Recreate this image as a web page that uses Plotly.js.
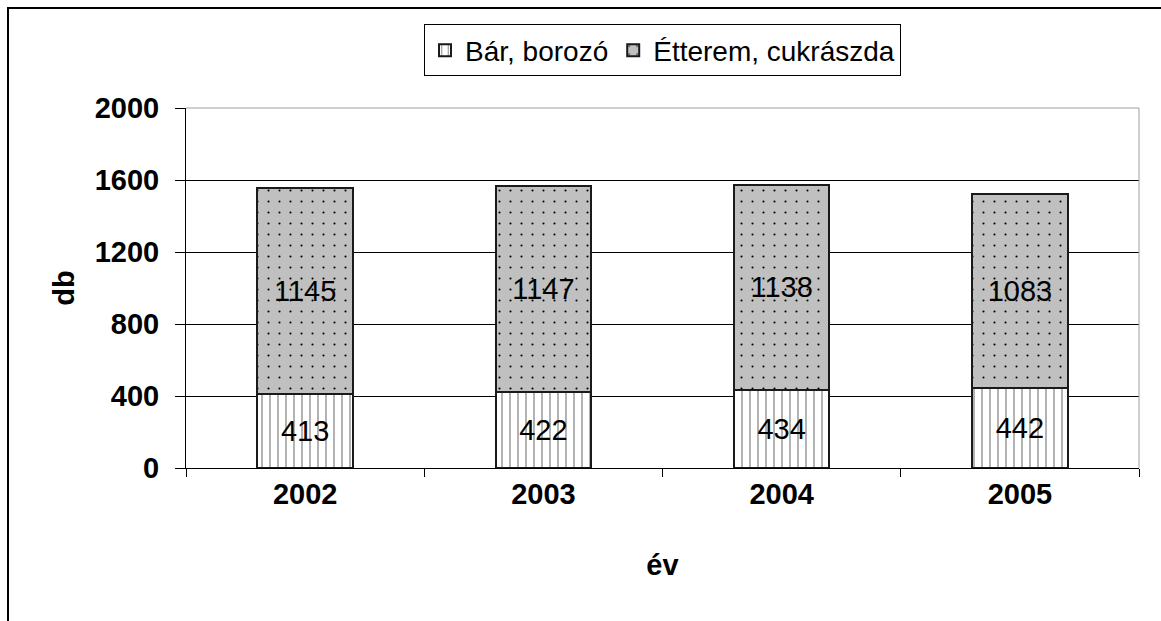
<!DOCTYPE html>
<html>
<head>
<meta charset="utf-8">
<script src="https://cdn.plot.ly/plotly-3.0.1.min.js"></script>
<style>
  body { margin: 0; overflow: hidden; background: #fff; }
  #chart { position: absolute; left: 0; top: 0; width: 1161px; height: 621px; }
  #keret { position: absolute; left: 7px; top: 7px; width: 2000px; height: 2000px;
           border-left: 2px solid #000; border-top: 2px solid #000; pointer-events: none; }
</style>
</head>
<body>
<div id="chart"></div>
<div id="keret"></div>
<script>
// evek es darabszamok
var evek = ['2002', '2003', '2004', '2005'];
var barBorozo = [413, 422, 434, 442];
var etteremCukraszda = [1145, 1147, 1138, 1083];
var yTicks = [0, 400, 800, 1200, 1600, 2000];

var betu = 'Liberation Sans, Arial, sans-serif';

var trace1 = {
  type: 'bar',
  name: 'Bár, borozó',
  x: evek,
  y: barBorozo,
  text: barBorozo.map(String),
  textposition: 'inside',
  insidetextanchor: 'middle',
  textangle: 0,
  textfont: {family: betu, size: 29, color: '#000'},
  marker: {
    color: '#ffffff',
    line: {color: '#1a1a1a', width: 2},
    pattern: {shape: '|', fgcolor: '#000', bgcolor: '#fff', size: 8, solidity: 0.15, fgopacity: 0.5}
  },
  hoverinfo: 'skip'
};

var trace2 = {
  type: 'bar',
  name: 'Étterem, cukrászda',
  x: evek,
  y: etteremCukraszda,
  text: etteremCukraszda.map(String),
  textposition: 'inside',
  insidetextanchor: 'middle',
  textangle: 0,
  textfont: {family: betu, size: 29, color: '#000'},
  marker: {
    color: '#c0c0c0',
    line: {color: '#1a1a1a', width: 2},
    pattern: {shape: '.', fgcolor: '#000', bgcolor: '#c0c0c0', size: 11, solidity: 0.03}
  },
  hoverinfo: 'skip'
};

var layout = {
  width: 1161,
  height: 621,
  margin: {l: 186, r: 22, t: 108, b: 153},
  paper_bgcolor: '#fff',
  plot_bgcolor: '#fff',
  barmode: 'stack',
  bargap: 0.6,
  font: {family: betu, color: '#000'},
  showlegend: true,
  legend: {
    orientation: 'h',
    x: 0.5, xanchor: 'center',
    y: 1.232, yanchor: 'top',
    bordercolor: '#000', borderwidth: 1,
    font: {family: betu, size: 28, color: '#000'},
    itemwidth: 30,
    traceorder: 'normal'
  },
  xaxis: {
    type: 'category',
    tickson: 'boundaries',
    ticks: 'outside', ticklen: 8, tickcolor: '#000', tickwidth: 1,
    showline: true, linecolor: '#000', linewidth: 1,
    showgrid: false,
    tickfont: {family: betu, size: 29, weight: 'bold', color: '#000'},
    title: {text: 'év', font: {family: betu, size: 29, weight: 'bold', color: '#000'}, standoff: 45},
    automargin: false
  },
  yaxis: {
    range: [0, 2000],
    tickvals: yTicks,
    ticktext: yTicks.map(String),
    ticks: 'outside', ticklen: 10, tickcolor: '#000', tickwidth: 1,
    ticklabelstandoff: 10,
    showline: true, linecolor: '#000', linewidth: 1,
    showgrid: true, gridcolor: '#000', gridwidth: 1,
    zeroline: false,
    tickfont: {family: betu, size: 29, weight: 'bold', color: '#000'},
    title: {text: 'db', font: {family: betu, size: 29, weight: 'bold', color: '#000'}, standoff: 11},
    automargin: false
  },
  shapes: [
    {type: 'line', xref: 'paper', yref: 'paper', x0: 0, x1: 1, y0: 1, y1: 1,
     line: {color: '#a0a0a0', width: 1}, layer: 'above'},
    {type: 'line', xref: 'paper', yref: 'paper', x0: 1, x1: 1, y0: 0, y1: 1,
     line: {color: '#a0a0a0', width: 1}, layer: 'above'}
  ]
};

Plotly.newPlot('chart', [trace1, trace2], layout, {staticPlot: true});
</script>
</body>
</html>
